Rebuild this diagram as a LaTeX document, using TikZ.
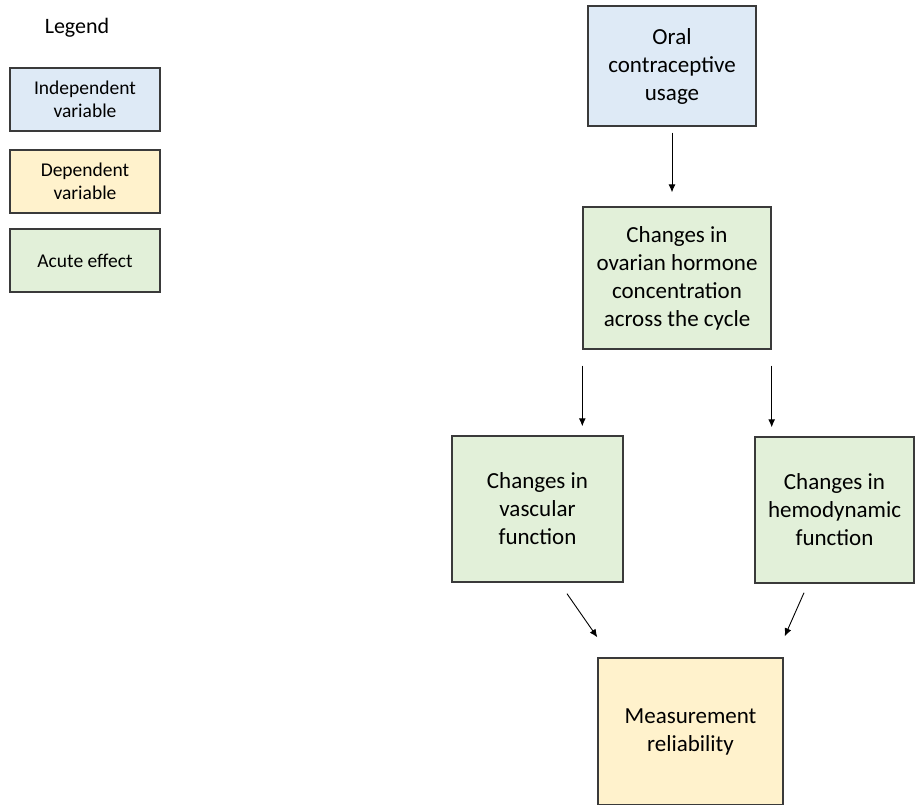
\documentclass[tikz,border=0pt]{standalone}
\usepackage{fontspec}
\setmainfont{Carlito}
\usetikzlibrary{arrows.meta}
\definecolor{indep}{HTML}{DEEAF6}
\definecolor{dep}{HTML}{FFF2CC}
\definecolor{acute}{HTML}{E2F0D9}
\definecolor{edge}{HTML}{3A3A3A}
\tikzset{
  box/.style={draw=edge, line width=1.4pt, rectangle, inner sep=0pt, align=center,
    font=\fontsize{23}{28}\selectfont},
  legbox/.style={box, minimum width=150pt, minimum height=63pt,
    font=\fontsize{19.5}{23}\selectfont},
  arr/.style={draw=black, line width=0.9pt, -{Latex[length=8pt,width=7pt]}}
}
\begin{document}
\begin{tikzpicture}[x=1pt,y=-1pt]
\useasboundingbox (0,0) rectangle (917,804);
% legend
\node[font=\fontsize{22}{26}\selectfont] (legtitle) at (77,28) {Legend};
\node[legbox, fill=indep] (leg1) at (85,99.5) {Independent\\variable};
\node[legbox, fill=dep] (leg2) at (85,181.5) {Dependent\\variable};
\node[legbox, fill=acute] (leg3) at (85,260.5) {Acute effect};
% main
\node[box, fill=indep, minimum width=168pt, minimum height=120pt] (oral) at (672,66) {Oral\\contraceptive\\usage};
\node[box, fill=acute, minimum width=188pt, minimum height=142pt] (horm) at (677,278) {Changes in\\ovarian hormone\\concentration\\across the cycle};
\node[box, fill=acute, minimum width=171pt, minimum height=146pt] (vasc) at (537.5,509) {Changes in\\vascular\\function};
\node[box, fill=acute, minimum width=159pt, minimum height=146pt] (hemo) at (834.5,510) {Changes in\\hemodynamic\\function};
\node[box, fill=dep, minimum width=185pt, minimum height=147pt] (meas) at (690.5,731.5) {Measurement\\reliability};
% connectors
\draw[arr, shorten <=6pt, shorten >=14pt] (oral.south) -- (oral.south |- horm.north);
\draw[arr, shorten <=16pt, shorten >=9pt] (horm.south west) -- (horm.south west |- vasc.north);
\draw[arr, shorten <=16pt, shorten >=9pt] (horm.south east) -- (horm.south east |- hemo.north);
\coordinate (a1) at ([xshift=29.5pt,yshift=-11pt]vasc.south);
\coordinate (a2) at ([yshift=20pt]meas.north west);
\draw[arr] (a1) -- (a2);
\coordinate (b1) at ([xshift=-30.5pt,yshift=-9pt]hemo.south);
\coordinate (b2) at ([xshift=1pt,yshift=21pt]meas.north east);
\draw[arr] (b1) -- (b2);
\end{tikzpicture}
\end{document}
